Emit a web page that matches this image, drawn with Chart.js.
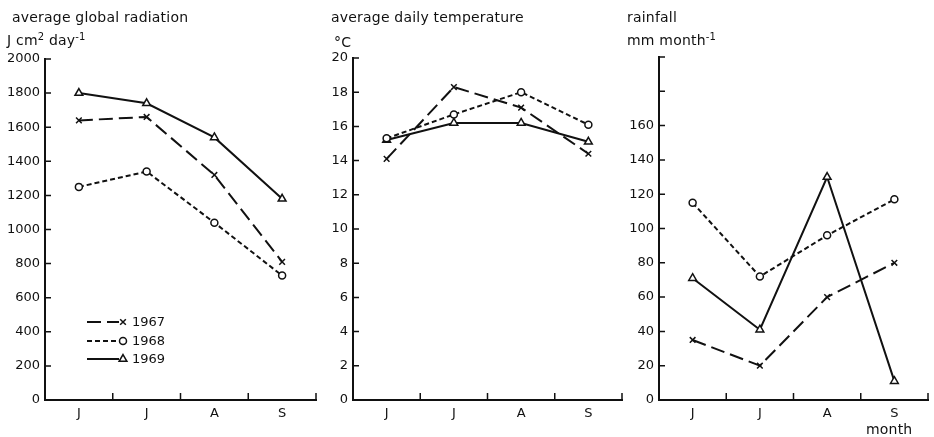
<!DOCTYPE html>
<html>
<head>
<meta charset="utf-8">
<script src="https://cdn.jsdelivr.net/npm/chart.js@4/dist/chart.umd.min.js"></script>
<style>
  body { margin: 0; background: #fff; }
  #wrap { position: relative; width: 934px; height: 437px; overflow: hidden; font-family: "DejaVu Sans", sans-serif; color: #111; }
  canvas { position: absolute; top: 0; }
  .lbl { position: absolute; font-size: 14px; line-height: 1; white-space: nowrap; letter-spacing: 0.2px; }
  .lbl sup { font-size: 10px; vertical-align: 5px; line-height: 0; }
</style>
</head>
<body>
<div id="wrap">
  <canvas id="rad" width="322" height="437" style="left:0px"></canvas>
  <canvas id="temp" width="306" height="437" style="left:322px"></canvas>
  <canvas id="rain" width="314" height="437" style="left:620px"></canvas>

  <div class="lbl" style="left:12px; top:10px">average global radiation</div>
  <div class="lbl" style="left:7px; top:33px">J cm<sup>2</sup> day<sup>-1</sup></div>
  <div class="lbl" style="left:331px; top:10px">average daily temperature</div>
  <div class="lbl" style="left:334px; top:35px">°C</div>
  <div class="lbl" style="left:627px; top:10px">rainfall</div>
  <div class="lbl" style="left:627px; top:33px">mm month<sup>-1</sup></div>
  <div class="lbl" style="left:866px; top:422px">month</div>
</div>

<script>
var ink = '#111';
var months = ['J', 'J', 'A', 'S'];
var years = ['1967', '1968', '1969'];

// global radiation, J cm-2 day-1
var radiation1967 = [1640, 1660, 1320, 810];
var radiation1968 = [1250, 1340, 1040, 730];
var radiation1969 = [1800, 1740, 1540, 1180];

// average daily temperature, deg C
var temperature1967 = [14.1, 18.3, 17.1, 14.4];
var temperature1968 = [15.3, 16.7, 18.0, 16.1];
var temperature1969 = [15.2, 16.2, 16.2, 15.1];

// rainfall, mm month-1
var rainfall1967 = [35, 20, 60, 80];
var rainfall1968 = [115, 72, 96, 117];
var rainfall1969 = [71, 41, 130, 11];

// line / marker look for each year
var yearStyle = {
  '1967': { dash: [14, 6], point: 'crossRot', radius: 4 },
  '1968': { dash: [5, 3], point: 'circle', radius: 3.5 },
  '1969': { dash: [], point: 'triangle', radius: 4.5 }
};

Chart.defaults.font.family = '"DejaVu Sans", sans-serif';
Chart.defaults.font.size = 13;
Chart.defaults.color = ink;

// tick marks pointing into the plot, like the printed figure
var innerTicks = {
  id: 'innerTicks',
  afterDraw: function (chart) {
    var ctx = chart.ctx, a = chart.chartArea;
    var x = chart.scales.x, y = chart.scales.y;
    ctx.save();
    ctx.strokeStyle = ink;
    ctx.lineWidth = 1.5;
    ctx.beginPath();
    for (var i = 0; i < y.ticks.length; i++) {
      var py = y.getPixelForTick(i);
      ctx.moveTo(a.left, py);
      ctx.lineTo(a.left + 6, py);
    }
    for (var j = 0; j < x.ticks.length; j++) {
      var px = j < x.ticks.length - 1 ? (x.getPixelForTick(j) + x.getPixelForTick(j + 1)) / 2 : a.right;
      ctx.moveTo(px, a.bottom);
      ctx.lineTo(px, a.bottom - 7);
    }
    ctx.stroke();
    ctx.restore();
  }
};

// key drawn inside the radiation panel: line sample, marker, year
var yearKey = {
  id: 'yearKey',
  afterDraw: function (chart, args, opts) {
    if (!opts.show) return;
    var ctx = chart.ctx;
    var x0 = 87, rowY = [322, 341, 359];
    ctx.save();
    chart.data.datasets.forEach(function (ds, i) {
      var yy = rowY[i];
      ctx.strokeStyle = ink;
      ctx.lineWidth = 2;
      ctx.setLineDash(ds.borderDash);
      ctx.beginPath();
      ctx.moveTo(x0, yy);
      ctx.lineTo(x0 + 32, yy);
      ctx.stroke();
      ctx.setLineDash([]);
      ctx.fillStyle = '#fff';
      ctx.lineWidth = 1.5;
      Chart.helpers.drawPoint(ctx, {
        pointStyle: ds.pointStyle, radius: ds.pointRadius, borderWidth: 1.5
      }, x0 + 36, yy);
      ctx.fillStyle = ink;
      ctx.font = '13px "DejaVu Sans"';
      ctx.textBaseline = 'middle';
      ctx.fillText(ds.label, x0 + 45, yy + 1);
    });
    ctx.restore();
  }
};

function makeDatasets(series) {
  return series.map(function (values, i) {
    var s = yearStyle[years[i]];
    return {
      label: years[i],
      data: values,
      borderColor: ink,
      borderWidth: 2,
      borderDash: s.dash,
      pointStyle: s.point,
      pointRadius: s.radius,
      pointBorderWidth: 1.5,
      pointBorderColor: ink,
      pointBackgroundColor: '#fff',
      tension: 0,
      fill: false
    };
  });
}

function makePanel(id, series, yMax, step, axisWidth, padTop, padRight, labelMax, showKey) {
  return new Chart(document.getElementById(id), {
    type: 'line',
    data: { labels: months, datasets: makeDatasets(series) },
    plugins: [innerTicks, yearKey],
    options: {
      responsive: false,
      animation: false,
      layout: { padding: { top: padTop, right: padRight, bottom: 0, left: 0 } },
      plugins: {
        legend: { display: false },
        tooltip: { enabled: false },
        yearKey: { show: showKey }
      },
      scales: {
        x: {
          offset: true,
          grid: { display: false, drawTicks: false },
          border: { color: ink, width: 2 },
          ticks: { padding: 6, color: ink },
          afterFit: function (scale) { scale.height = 37; }
        },
        y: {
          min: 0,
          max: yMax,
          grid: { display: false, drawTicks: false },
          border: { color: ink, width: 2 },
          ticks: {
            stepSize: step,
            padding: 5,
            color: ink,
            callback: function (v) { return v > labelMax ? '' : v; }
          },
          afterFit: function (scale) { scale.width = axisWidth; }
        }
      }
    }
  });
}

makePanel('rad', [radiation1967, radiation1968, radiation1969], 2000, 200, 45, 59, 4, 2000, true);
makePanel('temp', [temperature1967, temperature1968, temperature1969], 20, 2, 31, 58, 3, 20, false);
makePanel('rain', [rainfall1967, rainfall1968, rainfall1969], 200, 20, 39, 57, 1, 160, false);
</script>
</body>
</html>
